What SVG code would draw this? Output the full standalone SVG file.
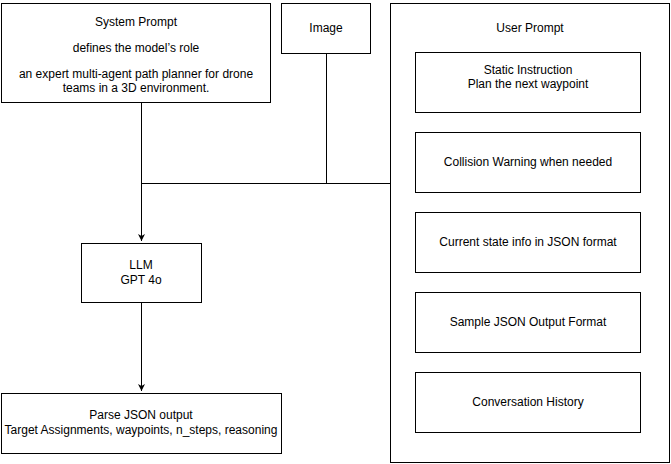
<svg xmlns="http://www.w3.org/2000/svg" width="671" height="464" viewBox="0 0 671 464">
<style>
rect{fill:#fff;stroke:#000;stroke-width:1}
text{font-family:"Liberation Sans",Arial,sans-serif;font-size:12px;fill:#000;text-anchor:middle}
.c{fill:none;stroke:#000;stroke-width:1}
</style>
<defs>
<marker id="ah" markerWidth="8" markerHeight="8" refX="7" refY="4" orient="auto" markerUnits="userSpaceOnUse">
<path d="M0,0.5 L7,4 L0,7.5 L2,4 Z" fill="#000"/>
</marker>
</defs>
<rect width="671" height="464" style="stroke:none"/>
<g id="connectors">
<path class="c" d="M141.5,102 V241" marker-end="url(#ah)"/>
<path class="c" d="M326.5,53 V183.5"/>
<path class="c" d="M141.5,183.5 H390"/>
<path class="c" d="M141.5,302 V391" marker-end="url(#ah)"/>
</g>
<g id="system-prompt">
<rect x="1.5" y="3.5" width="269" height="99"/>
<text x="136" y="26">System Prompt</text>
<text x="136" y="52">defines the model’s role</text>
<text x="136" y="78">an expert multi-agent path planner for drone</text>
<text x="136" y="92">teams in a 3D environment.</text>
</g>
<g id="image">
<rect x="281.5" y="3.5" width="89" height="50"/>
<text x="326" y="32">Image</text>
</g>
<g id="user-prompt">
<rect x="390.5" y="3.5" width="279" height="459"/>
<text x="530" y="32">User Prompt</text>
</g>
<g id="static-instruction">
<rect x="415.5" y="52.5" width="225" height="60"/>
<text x="528" y="74">Static Instruction</text>
<text x="528" y="88">Plan the next waypoint</text>
</g>
<g id="collision-warning">
<rect x="415.5" y="132.5" width="225" height="60"/>
<text x="528" y="166">Collision Warning when needed</text>
</g>
<g id="current-state">
<rect x="415.5" y="212.5" width="225" height="60"/>
<text x="528" y="246">Current state info in JSON format</text>
</g>
<g id="sample-output">
<rect x="415.5" y="292.5" width="225" height="60"/>
<text x="528" y="326">Sample JSON Output Format</text>
</g>
<g id="conversation-history">
<rect x="415.5" y="372.5" width="225" height="60"/>
<text x="528" y="406">Conversation History</text>
</g>
<g id="llm">
<rect x="81.5" y="243.5" width="120" height="59"/>
<text x="141" y="269">LLM</text>
<text x="141" y="284">GPT 4o</text>
</g>
<g id="parse-json">
<rect x="1.5" y="393.5" width="280" height="60"/>
<text x="141" y="419">Parse JSON output</text>
<text x="141" y="434">Target Assignments, waypoints, n_steps, reasoning</text>
</g>
</svg>
